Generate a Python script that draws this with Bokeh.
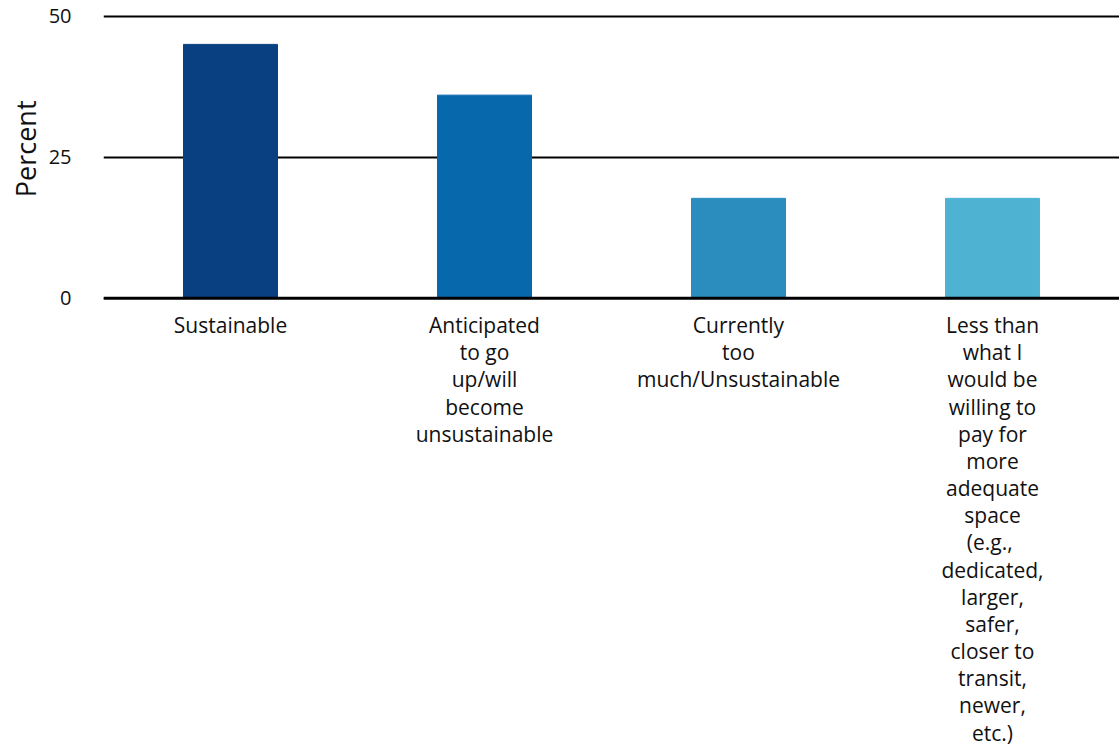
from bokeh.plotting import figure
from bokeh.models import FactorRange, Range1d, FixedTicker, ColumnDataSource, Span, Title
from bokeh.core.properties import value
from bokeh.embed import file_html
from bokeh.resources import INLINE

categories = ["Sustainable", "Anticipated", "Currently", "Less than"]
tick_labels = [
    "Sustainable",
    "Anticipated\nto go\nup/will\nbecome\nunsustainable",
    "Currently\ntoo\nmuch/Unsustainable",
    "Less than\nwhat I\nwould be\nwilling to\npay for\nmore\nadequate\nspace\n (e.g.,\ndedicated,\nlarger,\nsafer,\ncloser to\ntransit,\nnewer,\netc.)",
]
values = [45.0, 36.0, 17.7, 17.7]
colors = ["#084081", "#0868ac", "#2b8cbe", "#4eb3d3"]
y_ticks = [0, 25, 50]
y_title = "Percent"

src = ColumnDataSource(dict(cat=categories, val=values, color=colors, label=tick_labels))

p = figure(x_range=FactorRange(*categories), y_range=Range1d(-79.7, 50.3),
           width=1119, height=747, output_backend="svg", toolbar_location=None,
           min_border_left=103, min_border_right=0, min_border_top=14, min_border_bottom=0)
p.outline_line_color = None
p.x_range.range_padding = 0
p.xaxis.visible = False

p.vbar(x="cat", top="val", bottom=0, width=0.37, color="color", source=src)

# category labels drawn under the baseline
p.text(x="cat", y=0, text="label", source=src, text_align="center", text_baseline="top",
       y_offset=13, text_font=value("Open Sans"), text_font_size="21px", text_color="#111111",
       text_line_height=0.97)

p.yaxis.ticker = FixedTicker(ticks=y_ticks)
p.yaxis.axis_line_color = None
p.yaxis.major_tick_line_color = None
p.yaxis.minor_tick_line_color = None
p.yaxis.major_label_text_font = "Open Sans"
p.yaxis.major_label_text_font_size = "20px"
p.yaxis.major_label_text_color = "#111111"
p.yaxis.major_label_standoff = 26

p.add_layout(Title(text=y_title, align="right", offset=86, standoff=4, text_font="Open Sans",
                   text_font_size="27px", text_font_style="normal", text_color="#111111"), "left")

p.xgrid.grid_line_color = None
p.ygrid.grid_line_color = "#000000"
p.ygrid.grid_line_width = 2
p.add_layout(Span(location=0, dimension="width", line_color="#000000", line_width=2.8))

open("out.html", "w").write(file_html(p, INLINE))
